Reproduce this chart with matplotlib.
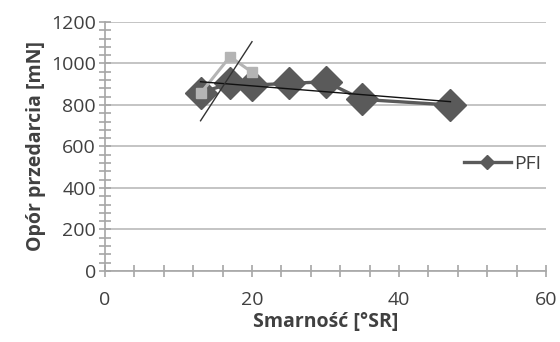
import matplotlib
matplotlib.use("Agg")
import matplotlib.pyplot as plt
from matplotlib.ticker import MultipleLocator

# data
smarnosc = [13, 17, 20, 25, 30, 35, 47]
opor_pfi = [859, 904, 896, 904, 912, 827, 800]
smarnosc_gray = [13, 17, 20]
opor_gray = [856, 1033, 958]
trend_x = [13, 47]
trend_y = [912, 816]
steep_x = [13, 20]
steep_y = [724, 1105]

AX = "#a6a6a6"
TXT = "#404040"
FONT = ["Open Sans", "DejaVu Sans"]
plt.rcParams["font.family"] = FONT

f = plt.figure(figsize=(5.6, 3.42), dpi=100)
ax = f.add_axes([0.1875, 0.2076, 0.7875, 0.7281])

ax.grid(axis="y", color="#bfbfbf", lw=1.3, zorder=0)
ax.set_axisbelow(True)

ax.plot(smarnosc, opor_pfi, color="#5a5a5a", lw=2.4, marker="D", ms=16,
        mfc="#5a5a5a", mec="#5a5a5a", zorder=3, label="PFI")
ax.plot(smarnosc_gray, opor_gray, color="#b4b4b4", lw=2.2, marker="s", ms=7.5,
        mfc="#b4b4b4", mec="#b4b4b4", zorder=4)
ax.plot(trend_x, trend_y, color="#111111", lw=1.0, zorder=5)
ax.plot(steep_x, steep_y, color="#333333", lw=1.0, zorder=5)

ax.set_xlim(0, 60)
ax.set_ylim(0, 1200)
ax.xaxis.set_major_locator(MultipleLocator(20))
ax.xaxis.set_minor_locator(MultipleLocator(4))
ax.yaxis.set_major_locator(MultipleLocator(200))
ax.yaxis.set_minor_locator(MultipleLocator(40))

for s in ("top", "right"):
    ax.spines[s].set_visible(False)
for s in ("left", "bottom"):
    ax.spines[s].set_color(AX)
    ax.spines[s].set_linewidth(1.2)

ax.tick_params(which="major", direction="inout", length=9, width=1.2, color=AX,
               labelsize=14, labelcolor=TXT)
ax.tick_params(which="minor", direction="inout", length=8, width=1.2, color=AX)
ax.tick_params(axis="x", pad=10)
ax.tick_params(axis="y", pad=2)

ax.set_xlabel("Smarność [°SR]", fontsize=14, fontweight="bold", color=TXT, labelpad=2)
ax.set_ylabel("Opór przedarcia [mN]", fontsize=14, fontweight="bold", color=TXT, labelpad=4)

ax.legend(loc="center right", bbox_to_anchor=(1.03, 0.43), frameon=False, fontsize=14,
          labelcolor=TXT, markerscale=0.45, handlelength=2.4, handletextpad=0.2)

f.savefig("out.png", dpi=100)
